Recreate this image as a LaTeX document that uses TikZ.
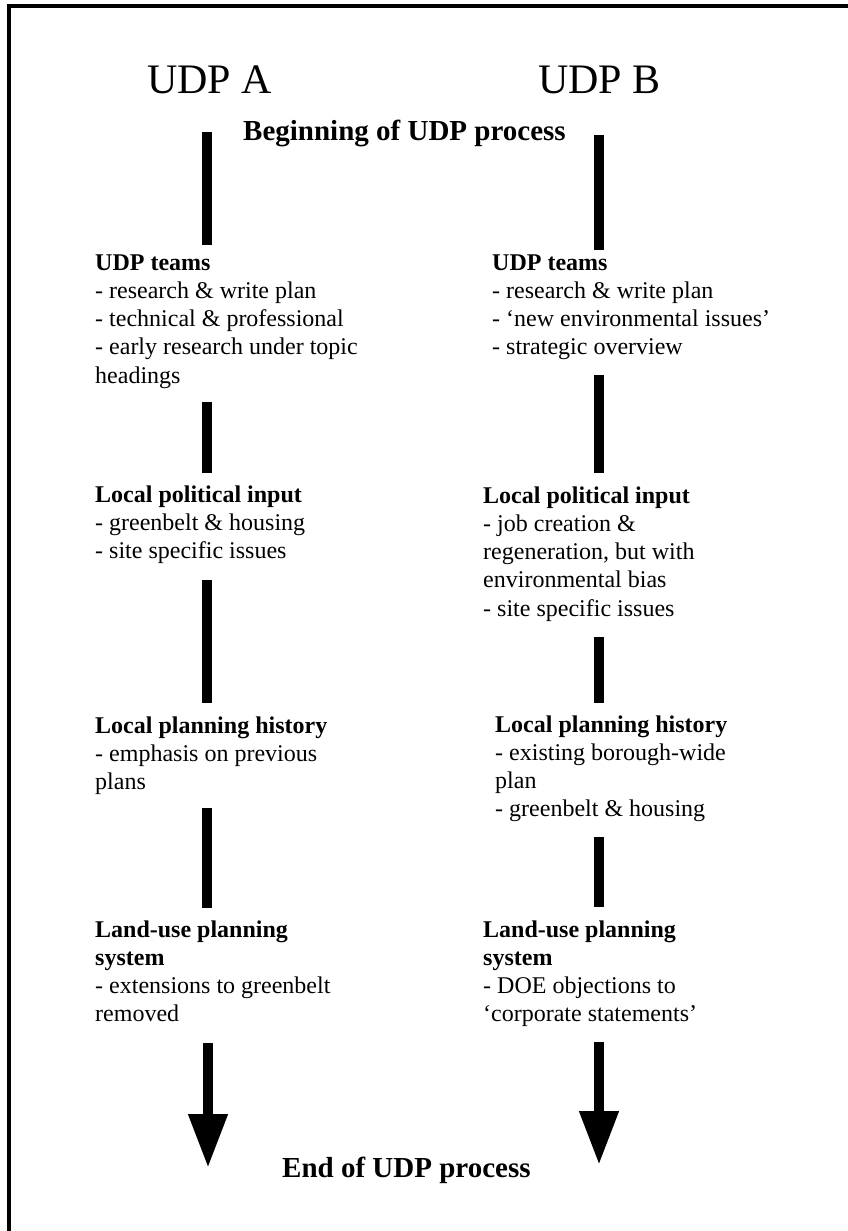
\documentclass[tikz,border=0pt]{standalone}
\usepackage{fontspec}
\setmainfont{Liberation Serif}
\usetikzlibrary{arrows.meta}
\begin{document}
\begin{tikzpicture}[x=1pt,y=-1pt,
  title/.style={anchor=base west,inner sep=0pt,font=\fontsize{42}{48}\selectfont},
  stage/.style={anchor=base west,inner sep=0pt,font=\fontsize{29}{34}\bfseries\selectfont},
  block/.style={anchor=base west,inner sep=0pt,font=\fontsize{24}{28.3}\selectfont},
  bar/.style={line width=10.5pt},
  flow/.style={line width=10.5pt,-{Triangle[length=54pt,width=37pt]}}]
\useasboundingbox (0,0) rectangle (848,1231);
% frame
\draw[line width=3.5pt] (848,6) -- (9,6) -- (9,1231);

% headings
\node[title] (ta) at (147,93) {UDP A};
\node[title] (tb) at (538,93) {UDP B};
\node[stage] (begin) at (243,140) {Beginning of UDP process};
\node[stage] (end) at (282,1177) {End of UDP process};

% column A
\node[block] (a1) at (95,270) {\begin{tabular}[t]{@{}l@{}}
  \textbf{UDP teams}\\
  - research \& write plan\\
  - technical \& professional\\
  - early research under topic\\
  headings\end{tabular}};
\node[block] (a2) at (95,502) {\begin{tabular}[t]{@{}l@{}}
  \textbf{Local political input}\\
  - greenbelt \& housing\\
  - site specific issues\end{tabular}};
\node[block] (a3) at (95,733) {\begin{tabular}[t]{@{}l@{}}
  \textbf{Local planning history}\\
  - emphasis on previous\\
  plans\end{tabular}};
\node[block] (a4) at (95,937) {\begin{tabular}[t]{@{}l@{}}
  \textbf{Land-use planning}\\
  \textbf{system}\\
  - extensions to greenbelt\\
  removed\end{tabular}};

% column B
\node[block] (b1) at (492,270) {\begin{tabular}[t]{@{}l@{}}
  \textbf{UDP teams}\\
  - research \& write plan\\
  - ‘new environmental issues’\\
  - strategic overview\end{tabular}};
\node[block] (b2) at (483,503) {\begin{tabular}[t]{@{}l@{}}
  \textbf{Local political input}\\
  - job creation \&\\
  regeneration, but with\\
  environmental bias\\
  - site specific issues\end{tabular}};
\node[block] (b3) at (495,732) {\begin{tabular}[t]{@{}l@{}}
  \textbf{Local planning history}\\
  - existing borough-wide\\
  plan\\
  - greenbelt \& housing\end{tabular}};
\node[block] (b4) at (483,937) {\begin{tabular}[t]{@{}l@{}}
  \textbf{Land-use planning}\\
  \textbf{system}\\
  - DOE objections to\\
  ‘corporate statements’\end{tabular}};

% bar end points, column A
\coordinate (a0s) at (207,132);  \coordinate (a0e) at (207,245);
\coordinate (a1s) at (207,402);  \coordinate (a1e) at (207,473);
\coordinate (a2s) at (207,580);  \coordinate (a2e) at (207,703);
\coordinate (a3s) at (207,808);  \coordinate (a3e) at (207,908);
\coordinate (a4s) at (208,1043); \coordinate (a4e) at (208,1168);
% bar end points, column B
\coordinate (b0s) at (599,135);  \coordinate (b0e) at (599,250);
\coordinate (b1s) at (599,375);  \coordinate (b1e) at (599,473);
\coordinate (b2s) at (599,637);  \coordinate (b2e) at (599,703);
\coordinate (b3s) at (599,837);  \coordinate (b3e) at (599,907);
\coordinate (b4s) at (599,1042); \coordinate (b4e) at (599,1165);

\foreach \c in {a0,a1,a2,a3,b0,b1,b2,b3}
  \draw[bar] (\c s) -- (\c e);
\draw[flow] (a4s) -- (a4e);
\draw[flow] (b4s) -- (b4e);
\end{tikzpicture}
\end{document}
